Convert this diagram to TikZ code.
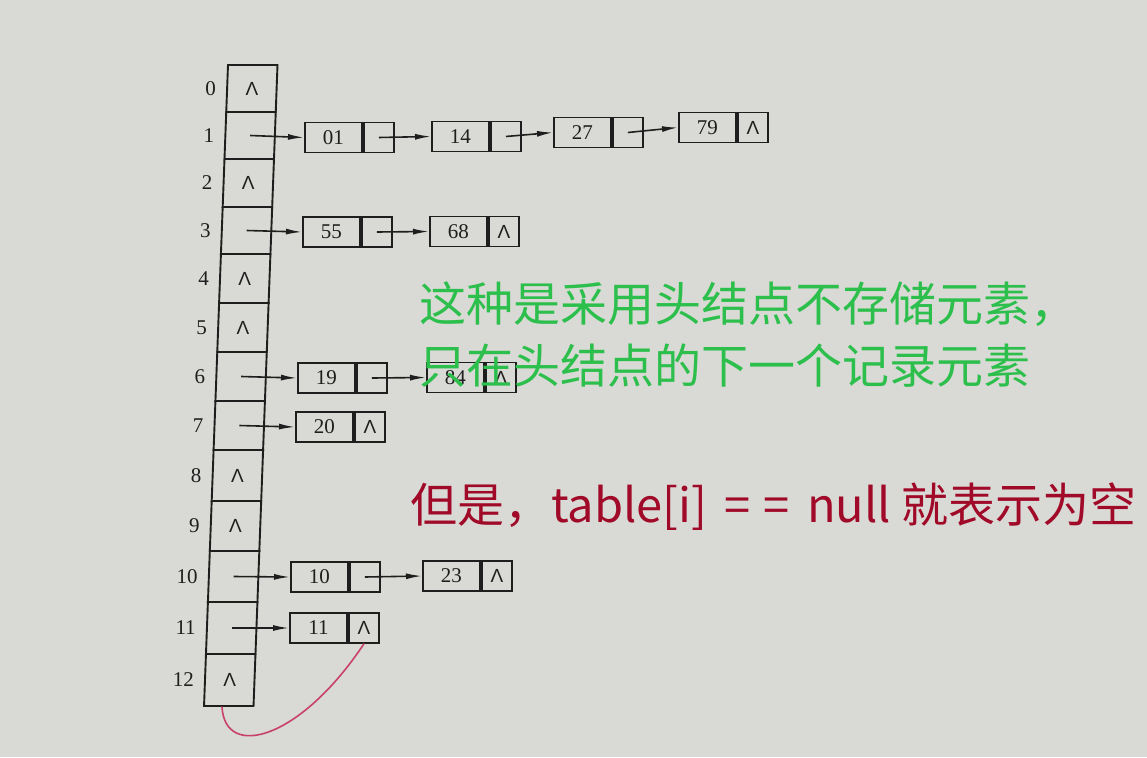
\documentclass[tikz,border=0pt]{standalone}
\usepackage{fontspec}
\setmainfont{Liberation Serif}
\newfontfamily\cjk{Noto Sans CJK SC}
\newfontfamily\lsans{Liberation Sans}
\usetikzlibrary{arrows.meta,positioning}
\definecolor{bg}{HTML}{D9D9D5}
\definecolor{ink}{HTML}{1E1E1E}
\definecolor{notegreen}{HTML}{2CBF4C}
\definecolor{notered}{HTML}{A00A28}
\definecolor{pinkline}{HTML}{C8416A}
\begin{document}
\begin{tikzpicture}[x=1pt,y=-1pt,
  cellline/.style={draw=ink,line width=1.9pt,line join=miter},
  lbl/.style={inner sep=0pt,font=\fontsize{21}{21}\selectfont,text=ink},
  nilmark/.style={inner sep=0pt,font=\lsans\fontsize{19}{19}\selectfont,text=ink},
  dat/.style={draw=ink,line width=1.9pt,minimum width=57pt,minimum height=30pt,inner sep=0pt,
    anchor=west,font=\fontsize{21}{21}\selectfont,text=ink},
  ptr/.style={draw=ink,line width=1.9pt,minimum width=30pt,minimum height=30pt,inner sep=0pt,
    font=\lsans\fontsize{19}{19}\selectfont,text=ink},
  arr/.style={draw=ink,line width=1.6pt,-{Latex[length=16pt,width=6pt]}},
  note/.style={inner sep=0pt,anchor=west,font=\cjk\fontsize{47}{47}\selectfont}]
\useasboundingbox[fill=bg] (0,0) rectangle (1147,757);

% hash table column (slightly slanted as in the photo)
\foreach \i/\t/\b/\nil in {0/65/112/1,1/112/159/0,2/159/207/1,3/207/254/0,4/254/303/1,
  5/303/352/1,6/352/401/0,7/401/450/0,8/450/501/1,9/501/551/1,10/551/602/0,11/602/654/0,12/654/706/1}{
  \pgfmathsetmacro\lt{228-0.0374*(\t-65)}
  \pgfmathsetmacro\lb{228-0.0374*(\b-65)}
  \pgfmathsetmacro\ym{(\t+\b)/2}
  \pgfmathsetmacro\xm{(\lt+\lb)/2}
  \draw[cellline] (\lt,\t) -- (\lt+49.5,\t) -- (\lb+49.5,\b) -- (\lb,\b) -- cycle;
  \coordinate (c\i) at (\xm+24.75,\ym);
  \node[lbl,anchor=east] (l\i) at (\xm-11,\ym) {\i};
  \ifnum\nil=1 \node[nilmark] (n\i) at (c\i) {Λ};\fi
}
\coordinate (c12b) at (222,707);

% row 1
\node[dat] (d01) at (304,137.5) {01};
\node[ptr,right=0pt of d01] (p01) {};
\node[dat] (d14) at (431,136.5) {14};
\node[ptr,right=0pt of d14] (p14) {};
\node[dat] (d27) at (553,132.5) {27};
\node[ptr,right=0pt of d27] (p27) {};
\node[dat] (d79) at (678,127.5) {79};
\node[ptr,right=0pt of d79] (p79) {Λ};
\draw[arr] (c1) -- (d01.west);
\draw[arr] (p01.center) -- (d14.west);
\draw[arr] (p14.center) -- (d27.west);
\draw[arr] (p27.center) -- (d79.west);

% row 3
\node[dat] (d55) at (302,232) {55};
\node[ptr,right=0pt of d55] (p55) {};
\node[dat] (d68) at (429,231.5) {68};
\node[ptr,right=0pt of d68] (p68) {Λ};
\draw[arr] (c3) -- (d55.west);
\draw[arr] (p55.center) -- (d68.west);

% row 6
\node[dat] (d19) at (297,378) {19};
\node[ptr,right=0pt of d19] (p19) {};
\node[dat] (d84) at (426,377.5) {84};
\node[ptr,right=0pt of d84] (p84) {Λ};
\draw[arr] (c6) -- (d19.west);
\draw[arr] (p19.center) -- (d84.west);

% row 7
\node[dat] (d20) at (295,427) {20};
\node[ptr,right=0pt of d20] (p20) {Λ};
\draw[arr] (c7) -- (d20.west);

% row 10
\node[dat] (d10) at (290,577) {10};
\node[ptr,right=0pt of d10] (p10) {};
\node[dat] (d23) at (422,576) {23};
\node[ptr,right=0pt of d23] (p23) {Λ};
\draw[arr] (c10) -- (d10.west);
\draw[arr] (p10.center) -- (d23.west);

% row 11
\node[dat] (d11) at (289,628) {11};
\node[ptr,right=0pt of d11] (p11) {Λ};
\draw[arr] (c11) -- (d11.west);

% hand-drawn pink stroke
\draw[pinkline,line width=1.6pt,line cap=round] (c12b) .. controls (225,760) and (300,740) .. (p11.south);

% annotations
\node[note,text=notegreen] (t1) at (419,304) {这种是采用头结点不存储元素，};
\node[note,text=notegreen] (t2) at (419,366) {只在头结点的下一个记录元素};
\node[note,text=notered] (t3) at (410,507) {但是，table[i] \hspace{7pt}=\hspace{2pt} =\hspace{7pt} null 就表示为空};
\end{tikzpicture}
\end{document}
